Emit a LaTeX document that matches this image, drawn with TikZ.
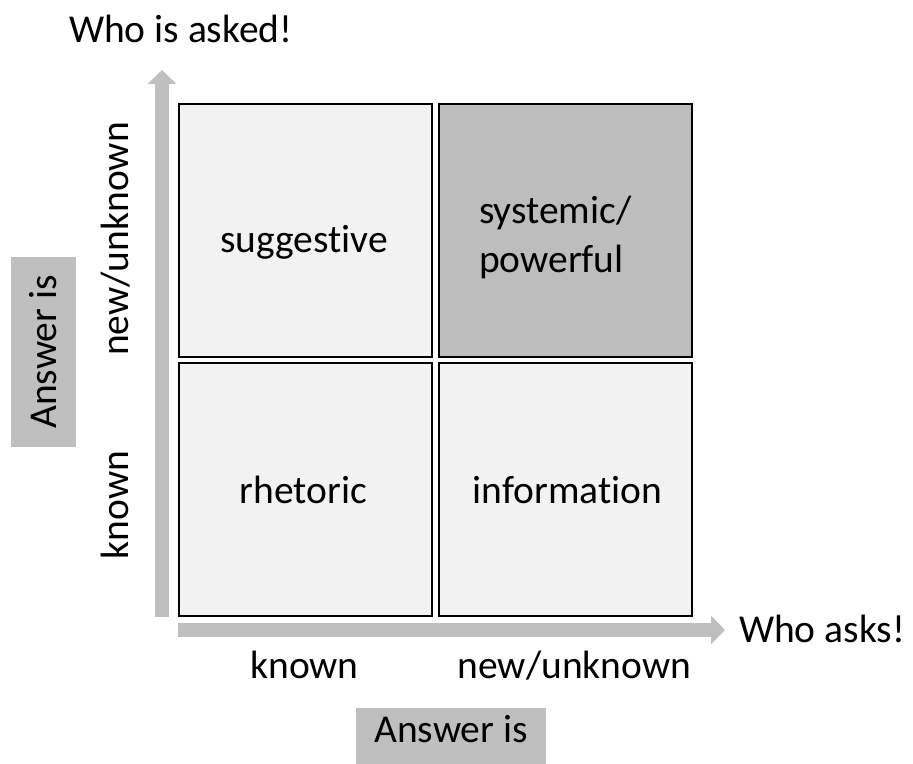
\documentclass[tikz,border=0pt]{standalone}
\usepackage{fontspec}
\setmainfont{Carlito}[Ligatures=NoCommon]
\usetikzlibrary{arrows.meta}
\definecolor{cellLight}{HTML}{F2F2F2}
\definecolor{cellDark}{HTML}{BDBDBD}
\definecolor{axisGrey}{HTML}{BFBFBF}
\begin{document}
\begin{tikzpicture}[x=1bp,y=-1bp,
  every node/.style={font=\fontsize{39.5bp}{49bp}\selectfont, inner sep=0pt, outer sep=0pt},
  cell/.style={draw=black, line width=2bp, minimum width=253bp, minimum height=253bp},
  tag/.style={fill=axisGrey, text=black},
  axis/.style={draw=axisGrey, line width=14bp,
    -{Triangle[width=28bp,length=14bp]}}]
  \clip (0,0) rectangle (913,764);

  % four quadrants
  \node[cell, fill=cellLight] (tl) at (305.5,230.5) {};
  \node[cell, fill=cellDark]  (tr) at (565.5,230.5) {};
  \node[cell, fill=cellLight] (bl) at (305.5,489) {};
  \node[cell, fill=cellLight] (br) at (565.5,489) {};

  % quadrant labels
  \node[anchor=base] (sug) at (304,252) {suggestive};
  \node[anchor=base west, align=left] (sys) at (479,272) {systemic/\\powerful};
  \node[anchor=base] (rhe) at (303.5,503) {rhetoric};
  \node[anchor=base] (inf) at (567.5,503) {information};

  % axes
  \coordinate (vfrom) at (162,617);
  \coordinate (vto) at (162,70);
  \coordinate (hfrom) at (178,630);
  \coordinate (hto) at (725,630);
  \draw[axis] (vfrom) -- (vto);
  \draw[axis] (hfrom) -- (hto);

  % axis titles
  \node[anchor=base west] (asked) at (69,43) {Who is asked!};
  \node[anchor=base west] (asks) at (739,642) {Who asks!};

  % vertical axis values
  \node[anchor=base, rotate=90] (vnew) at (128,239) {new/unknown};
  \node[anchor=base, rotate=90] (vknown) at (128,505) {known};
  \node[tag, rotate=90, minimum width=190bp, minimum height=65bp] (vtag) at (43.5,352) {Answer is};

  % horizontal axis values
  \node[anchor=base] (hknown) at (304.5,678) {known};
  \node[anchor=base] (hnew) at (574.5,678) {new/unknown};
  \node[tag, anchor=base, minimum width=190bp, text height=34bp, text depth=31bp] (htag) at (451,742) {Answer is};
\end{tikzpicture}
\end{document}
